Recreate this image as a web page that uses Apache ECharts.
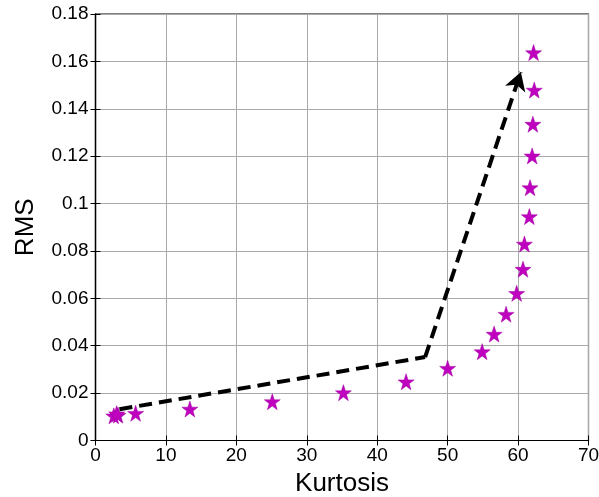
<!DOCTYPE html>
<html>
<head>
<meta charset="utf-8">
<script src="https://cdn.jsdelivr.net/npm/echarts@6/dist/echarts.min.js"></script>
<style>
  html, body { margin: 0; padding: 0; background: #fff; }
  #chart { width: 599px; height: 497px; }
</style>
</head>
<body>
<div id="chart"></div>
<script>
// Measured feature values: kurtosis vs RMS
const kurtosis = [2.6, 3.2, 3.0, 5.7, 13.4, 25.1, 35.2, 44.1, 50.0, 54.9, 56.6, 58.3, 59.8, 60.7, 60.9, 61.6, 61.7, 62.0, 62.1, 62.3, 62.2];
const rms      = [0.0104, 0.0107, 0.0113, 0.0115, 0.0133, 0.0164, 0.0202, 0.0248, 0.0305, 0.0375, 0.0449, 0.0533, 0.0621, 0.0723, 0.0829, 0.0945, 0.1067, 0.1201, 0.1335, 0.1479, 0.1637];

// Trend path (dashed arrow): start, knee, tip
const trendX = [3.4, 46.8, 60.4];
const trendY = [0.0132, 0.0352, 0.1555];

const xTicks = [0, 10, 20, 30, 40, 50, 60, 70];
const yTicks = [0, 0.02, 0.04, 0.06, 0.08, 0.1, 0.12, 0.14, 0.16, 0.18];

const STAR = 'path://M50,0 L61.8,35.1 L98.1,35.1 L68.8,56.7 L79.4,90.9 L50,70 L20.6,90.9 L31.2,56.7 L1.9,35.1 L38.2,35.1 Z';
const FONT = '"Liberation Sans", Arial, sans-serif';

const points = kurtosis.map((k, i) => [k, rms[i]]);

const dash = { color: '#000', width: 4, type: [13, 7], opacity: 1 };

const chart = echarts.init(document.getElementById('chart'), null, { renderer: 'canvas' });

const tickStyle = { inside: true, length: 5, lineStyle: { color: '#000', width: 1 } };

chart.setOption({
  animation: false,
  backgroundColor: '#fff',
  grid: { left: 95.5, right: 10.5, top: 14, bottom: 56.5, containLabel: false, outerBoundsMode: 'none',
    show: true, borderColor: '#000', borderWidth: 1.2 },
  xAxis: [{
    type: 'value', min: xTicks[0], max: xTicks[xTicks.length - 1], interval: 10,
    name: 'Kurtosis', nameLocation: 'middle', nameGap: 27,
    nameTextStyle: { fontFamily: FONT, fontSize: 26, color: '#000' },
    axisLine: { show: true, lineStyle: { color: '#000', width: 1.2 } },
    axisTick: tickStyle,
    axisLabel: { fontFamily: FONT, fontSize: 19, color: '#000', margin: 6 },
    splitLine: { show: true, lineStyle: { color: '#aaaaaa', width: 1 } }
  }, {
    type: 'value', position: 'top', min: xTicks[0], max: xTicks[xTicks.length - 1], interval: 10,
    axisLine: { show: true, lineStyle: { color: '#000', width: 1.2 } },
    axisTick: tickStyle, axisLabel: { show: false }, splitLine: { show: false }
  }],
  yAxis: [{
    type: 'value', min: yTicks[0], max: yTicks[yTicks.length - 1], interval: 0.02,
    name: 'RMS', nameLocation: 'middle', nameGap: 57, nameRotate: 90,
    nameTextStyle: { fontFamily: FONT, fontSize: 26, color: '#000' },
    axisLine: { show: true, lineStyle: { color: '#000', width: 1.2 } },
    axisTick: tickStyle,
    axisLabel: { fontFamily: FONT, fontSize: 19, color: '#000', margin: 7,
      formatter: v => String(parseFloat(v.toFixed(2))) },
    splitLine: { show: true, lineStyle: { color: '#aaaaaa', width: 1 } }
  }, {
    type: 'value', position: 'right', min: yTicks[0], max: yTicks[yTicks.length - 1], interval: 0.02,
    axisLine: { show: true, lineStyle: { color: '#000', width: 1.2 } },
    axisTick: tickStyle, axisLabel: { show: false }, splitLine: { show: false }
  }],
  series: [{
    type: 'scatter',
    data: points,
    symbol: STAR,
    symbolSize: 16,
    itemStyle: { color: '#BF00BF', borderColor: '#A000A0', borderWidth: 0.5, opacity: 1 },
    z: 3,
    markLine: {
      silent: true,
      animation: false,
      label: { show: false },
      lineStyle: dash,
      symbolSize: [16, 18],
      data: [
        [{ coord: [trendX[0], trendY[0]], symbol: 'none' }, { coord: [trendX[1], trendY[1]], symbol: 'none' }],
        [{ coord: [trendX[1], trendY[1]], symbol: 'none' }, { coord: [trendX[2], trendY[2]], symbol: 'arrow' }]
      ]
    }
  }]
});
</script>
</body>
</html>
